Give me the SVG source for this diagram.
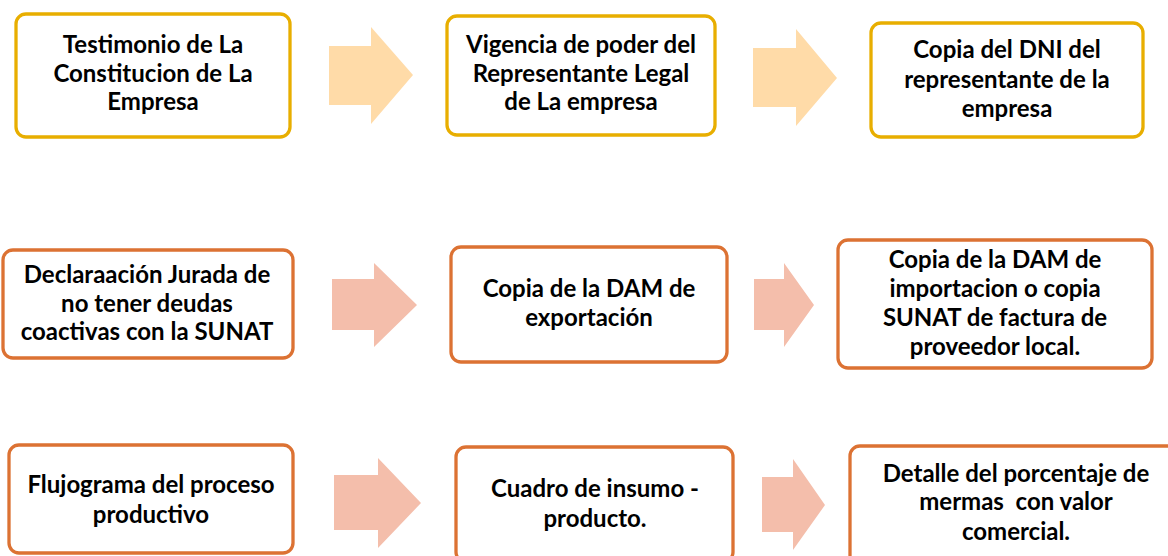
<svg xmlns="http://www.w3.org/2000/svg" width="1168" height="556" viewBox="0 0 1168 556">
<style>
.box{fill:#ffffff;stroke-width:3.3}
.gold{stroke:#E8AE00}
.orng{stroke:#DC7233}
.arrY{fill:#FFDBA8}
.arrR{fill:#F4BEAB}
text{font-family:Lato,"Liberation Sans",sans-serif;font-weight:bold;font-size:24px;fill:#000;text-anchor:middle;white-space:pre}
</style>
<rect width="1168" height="556" fill="#ffffff"/>
<g id="connectors">
<polygon class="arrY" points="329,46 371,46 371,27 413,75 371,124 371,105 329,105"/>
<polygon class="arrY" points="753,48 796,48 796,29 837,78 796,126 796,107 753,107"/>
<polygon class="arrR" points="332,279 374,279 374,263 417,305 374,347 374,330 332,330"/>
<polygon class="arrR" points="754,279 784,279 784,263 814,305 784,347 784,330 754,330"/>
<polygon class="arrR" points="334,475 378,475 378,458 421,503 378,548 378,530 334,530"/>
<polygon class="arrR" points="762,477 793,477 793,459 825,505 793,550 793,532 762,532"/>
</g>
<g id="n1"><rect class="box gold" x="16" y="14" width="274" height="123" rx="10"/>
<text x="153" y="53">Testimonio de La</text><text x="153" y="82">Constitucion de La</text><text x="153" y="110">Empresa</text></g>
<g id="n2"><rect class="box gold" x="447" y="16" width="268" height="119" rx="10"/>
<text x="581" y="53">Vigencia de poder del</text><text x="581" y="82">Representante Legal</text><text x="581" y="110">de La empresa</text></g>
<g id="n3"><rect class="box gold" x="871" y="23" width="272" height="114" rx="10"/>
<text x="1007" y="58">Copia del DNI del</text><text x="1007" y="88">representante de la</text><text x="1007" y="117">empresa</text></g>
<g id="n4"><rect class="box orng" x="3" y="250" width="290" height="108" rx="10"/>
<text x="147" y="283">Declaraación Jurada de</text><text x="147" y="312">no tener deudas</text><text x="147" y="340">coactivas con la SUNAT</text></g>
<g id="n5"><rect class="box orng" x="451" y="247" width="276" height="115" rx="10"/>
<text x="589" y="297">Copia de la DAM de</text><text x="589" y="326">exportación</text></g>
<g id="n6"><rect class="box orng" x="838" y="240" width="314" height="128" rx="10"/>
<text x="995" y="268">Copia de la DAM de</text><text x="995" y="297">importacion o copia</text><text x="995" y="326">SUNAT de factura de</text><text x="995" y="355">proveedor local.</text></g>
<g id="n7"><rect class="box orng" x="9" y="445" width="284" height="108" rx="10"/>
<text x="151" y="493">Flujograma del proceso</text><text x="151" y="523">productivo</text></g>
<g id="n8"><rect class="box orng" x="456" y="447" width="277" height="115" rx="10"/>
<text x="595" y="497">Cuadro de insumo -</text><text x="595" y="527">producto.</text></g>
<g id="n9"><rect class="box orng" x="850" y="446" width="335" height="120" rx="10"/>
<text x="1016" y="482">Detalle del porcentaje de</text><text x="1016" y="510">mermas  con valor</text><text x="1016" y="540">comercial.</text></g>
</svg>
